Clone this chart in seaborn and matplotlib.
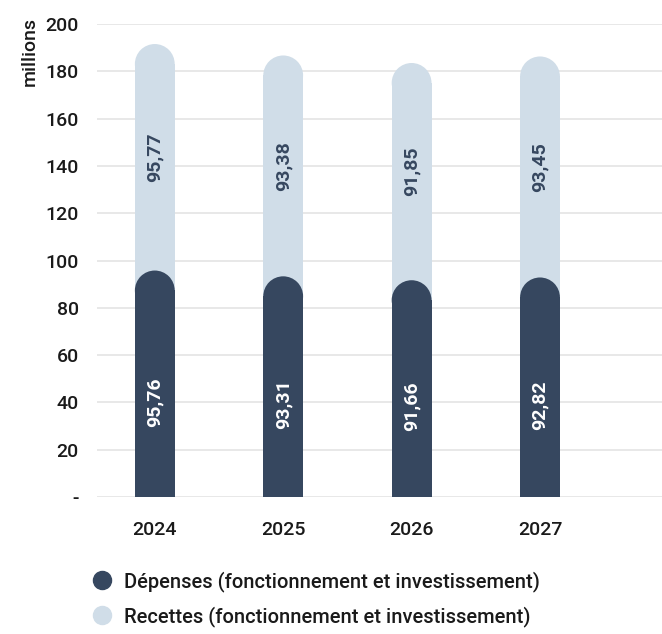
import matplotlib
matplotlib.use("Agg")
import matplotlib.pyplot as plt
from matplotlib.patches import Ellipse
from matplotlib.lines import Line2D
import seaborn as sns
import pandas as pd

# data (millions)
annees = ["2024", "2025", "2026", "2027"]
depenses = [95.76, 93.31, 91.66, 92.82]
recettes = [95.77, 93.38, 91.85, 93.45]
yticks = [0, 20, 40, 60, 80, 100, 120, 140, 160, 180, 200]
ytick_labels = ["-"] + [str(v) for v in yticks[1:]]

DARK = "#36475f"
LIGHT = "#d0dde8"
TEXT = "#1a1a1a"

sns.set_theme(style="white")
plt.rcParams["font.family"] = ["Roboto", "DejaVu Sans"]
plt.rcParams["font.weight"] = "medium"

df = pd.DataFrame({"annee": annees, "depenses": depenses, "recettes": recettes})
df["total"] = df["depenses"] + df["recettes"]

fig = plt.figure(figsize=(6.62, 6.34), dpi=100)
ax = fig.add_axes([97 / 662, 1 - 497 / 634, 1 - 97 / 662, (497 - 24) / 634])

bar_w = 0.31
# light column behind (stacked total), dark on top
sns.barplot(data=df, x="annee", y="total", color=LIGHT, width=bar_w, saturation=1, ax=ax, zorder=2)
n_light = len(ax.patches)
sns.barplot(data=df, x="annee", y="depenses", color=DARK, width=bar_w, saturation=1, ax=ax, zorder=3)

ax.set_xlim(-0.45, 3.95)
ax.set_ylim(0, 200)

# rounded caps: radius = half bar width in pixels, converted to data units
fig.canvas.draw()
px_per_x = ax.bbox.width / (ax.get_xlim()[1] - ax.get_xlim()[0])
px_per_y = ax.bbox.height / (ax.get_ylim()[1] - ax.get_ylim()[0])
r_px = bar_w * px_per_x / 2
r_y = r_px / px_per_y

for i, p in enumerate(list(ax.patches)):
    x, w, h = p.get_x(), p.get_width(), p.get_height()
    p.set_height(h - r_y)
    p.set_linewidth(0)
    col = LIGHT if i < n_light else DARK
    z = 2 if i < n_light else 3
    ax.add_patch(Ellipse((x + w / 2, h - r_y), w, 2 * r_y, facecolor=col, edgecolor="none", zorder=z))

# value labels
for i in range(len(annees)):
    d, r = depenses[i], recettes[i]
    ax.text(i, d * 0.42, f"{d:.2f}".replace(".", ","), rotation=90, ha="center", va="center",
            color="white", fontsize=14, fontweight="bold", zorder=5)
    ax.text(i, d + r * 0.5, f"{r:.2f}".replace(".", ","), rotation=90, ha="center", va="center",
            color=DARK, fontsize=14, fontweight="bold", zorder=5)

ax.set_yticks(yticks)
ax.set_yticklabels(ytick_labels)
ax.yaxis.grid(True, color="#e4e4e4", linewidth=1.2, zorder=0)
ax.set_axisbelow(True)
ax.tick_params(axis="y", length=0, pad=13, labelsize=14, labelcolor=TEXT)
ax.tick_params(axis="x", length=0, pad=17, labelsize=14, labelcolor=TEXT)
ax.set_xlabel("")
ax.set_ylabel("")
for s in ax.spines.values():
    s.set_visible(False)

fig.text(30 / 662, 1 - 52 / 634, "millions", rotation=90, ha="center", va="center",
         fontsize=14, color=TEXT)

handles = [
    Line2D([], [], marker="o", linestyle="", markersize=13, markerfacecolor=DARK, markeredgecolor=DARK),
    Line2D([], [], marker="o", linestyle="", markersize=13, markerfacecolor=LIGHT, markeredgecolor=LIGHT),
]
fig.legend(handles, ["Dépenses (fonctionnement et investissement)",
                     "Recettes (fonctionnement et investissement)"],
           loc="upper left", bbox_to_anchor=(80 / 662, 1 - 561 / 634), frameon=False,
           fontsize=14.5, labelspacing=0.7, handletextpad=0.5, handlelength=1.2,
           labelcolor=TEXT, borderpad=0)

fig.savefig("out.png", dpi=100)
